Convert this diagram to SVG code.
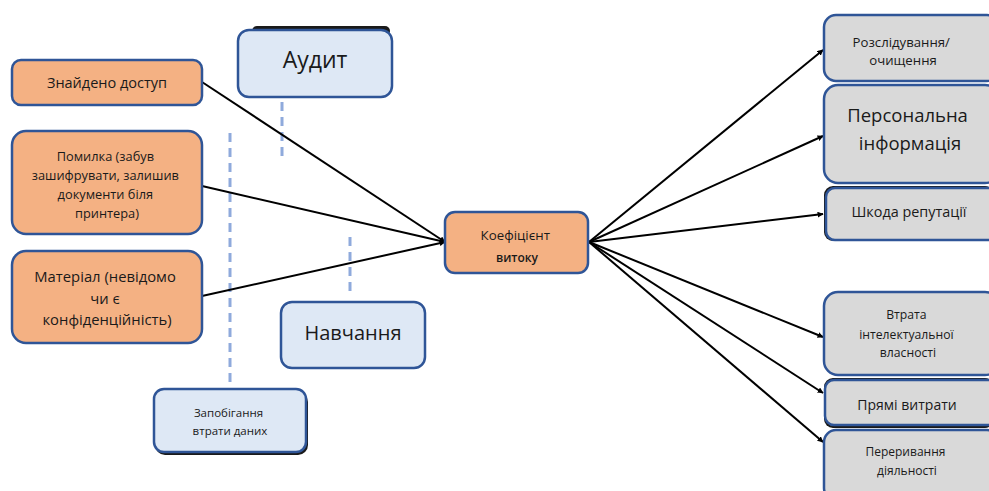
<svg xmlns="http://www.w3.org/2000/svg" width="989" height="491" viewBox="0 0 989 491">
  <defs>
    <marker id="arrow" viewBox="0 0 10 10" refX="9" refY="5" markerWidth="6" markerHeight="6" markerUnits="userSpaceOnUse" orient="auto">
      <path d="M0,0 L10,5 L0,10 z" fill="#000"/>
    </marker>
    <style>
      text { font-family: "Open Sans", "Liberation Sans", sans-serif; fill: #1a1a1a; text-anchor: middle; }
      .box { stroke: #2f5597; stroke-width: 2.5; }
      .cause { fill: #f4b183; }
      .ctrl { fill: #dee8f5; }
      .impact { fill: #d9d9d9; }
      .shadow { fill: #1a1a1a; }
      .guide { stroke: #8faadc; stroke-width: 3; stroke-dasharray: 9 6; fill: none; }
      .edge { stroke: #000; stroke-width: 2; fill: none; marker-end: url(#arrow); }
    </style>
  </defs>
  <rect width="989" height="491" fill="#fff"/>

  <!-- dashed guide lines under control boxes -->
  <g id="guides">
    <line class="guide" x1="230" y1="133" x2="230" y2="384"/>
    <line class="guide" x1="282" y1="102" x2="282" y2="162"/>
    <line class="guide" x1="350" y1="237" x2="350" y2="297"/>
  </g>

  <!-- connectors -->
  <g id="connectors">
    <line class="edge" x1="202" y1="82" x2="445" y2="242"/>
    <line class="edge" x1="202" y1="186" x2="445" y2="242"/>
    <line class="edge" x1="202" y1="296" x2="445" y2="242"/>
    <line class="edge" x1="589" y1="242" x2="823" y2="50"/>
    <line class="edge" x1="589" y1="242" x2="823" y2="136"/>
    <line class="edge" x1="589" y1="242" x2="823" y2="214"/>
    <line class="edge" x1="589" y1="242" x2="823" y2="337"/>
    <line class="edge" x1="589" y1="242" x2="823" y2="393"/>
    <line class="edge" x1="589" y1="242" x2="823" y2="442"/>
  </g>

  <!-- causes -->
  <g id="found-access">
    <rect class="box cause" x="12" y="60" width="190" height="45" rx="9"/>
    <text x="107" y="88" font-size="14.5">Знайдено доступ</text>
  </g>
  <g id="mistake">
    <rect class="box cause" x="12" y="131" width="190" height="103" rx="14"/>
    <text font-size="12.8">
      <tspan x="107" y="161">Помилка (забув</tspan>
      <tspan x="107" y="180">зашифрувати, залишив</tspan>
      <tspan x="107" y="199">документи біля</tspan>
      <tspan x="107" y="218">принтера)</tspan>
    </text>
  </g>
  <g id="material">
    <rect class="box cause" x="12" y="251" width="190" height="92" rx="14"/>
    <text font-size="14.8">
      <tspan x="107" y="282">Матеріал (невідомо</tspan>
      <tspan x="107" y="304">чи є</tspan>
      <tspan x="107" y="325">конфіденційність)</tspan>
    </text>
  </g>

  <!-- controls -->
  <g id="audit">
    <rect class="shadow" x="252" y="26" width="138" height="10" rx="5"/>
    <rect class="box ctrl" x="238" y="30" width="154" height="67" rx="11"/>
    <text x="315" y="68" font-size="23">Аудит</text>
  </g>
  <g id="training">
    <rect class="box ctrl" x="281" y="302" width="144" height="66" rx="11"/>
    <text x="353" y="340" font-size="20">Навчання</text>
  </g>
  <g id="dlp">
    <rect class="shadow" x="155" y="392" width="153" height="63" rx="10"/>
    <rect class="box ctrl" x="154" y="389" width="152" height="63" rx="10"/>
    <text font-size="11.5">
      <tspan x="230" y="417">Запобігання</tspan>
      <tspan x="230" y="435">втрати даних</tspan>
    </text>
  </g>

  <!-- central node -->
  <g id="leak-rate">
    <rect class="box cause" x="445" y="212" width="143" height="61" rx="10"/>
    <text font-size="13.3">
      <tspan x="517" y="240">Коефіцієнт</tspan>
      <tspan x="517" y="262" font-size="12" font-weight="600">витоку</tspan>
    </text>
  </g>

  <!-- impacts -->
  <g id="investigation">
    <rect class="box impact" x="824" y="15" width="175" height="66" rx="12"/>
    <text font-size="13.2">
      <tspan x="903" y="47">Розслідування/</tspan>
      <tspan x="903" y="65">очищення</tspan>
    </text>
  </g>
  <g id="personal-info">
    <rect class="box impact" x="824" y="85" width="175" height="98" rx="14"/>
    <text font-size="18.5">
      <tspan x="910" y="122">Персональна</tspan>
      <tspan x="910" y="150">інформація</tspan>
    </text>
  </g>
  <g id="reputation">
    <rect class="shadow" x="824" y="186" width="170" height="55" rx="9"/>
    <rect class="box impact" x="826" y="188" width="173" height="52" rx="9"/>
    <text x="909" y="217" font-size="14.4">Шкода репутації</text>
  </g>
  <g id="ip-loss">
    <rect class="box impact" x="824" y="292" width="175" height="83" rx="14"/>
    <text font-size="12.2">
      <tspan x="908" y="319">Втрата</tspan>
      <tspan x="908" y="339">інтелектуальної</tspan>
      <tspan x="908" y="357">власності</tspan>
    </text>
  </g>
  <g id="direct-costs">
    <rect class="shadow" x="824" y="378" width="170" height="50" rx="9"/>
    <rect class="box impact" x="825" y="380" width="174" height="45" rx="9"/>
    <text x="907" y="410" font-size="14">Прямі витрати</text>
  </g>
  <g id="disruption">
    <rect class="box impact" x="824" y="430" width="175" height="70" rx="12"/>
    <text font-size="12">
      <tspan x="907" y="456">Переривання</tspan>
      <tspan x="907" y="475">діяльності</tspan>
    </text>
  </g>
</svg>
